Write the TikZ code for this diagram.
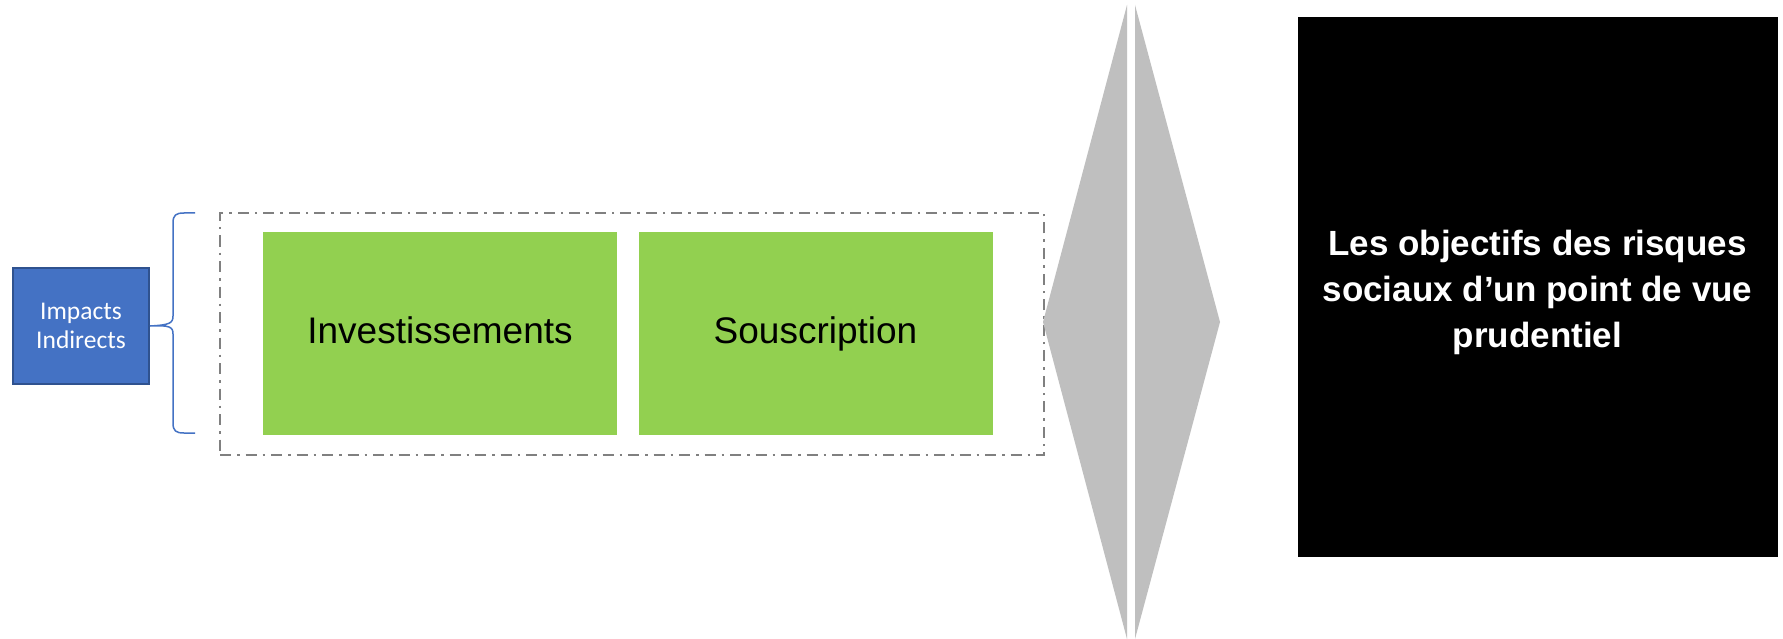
\documentclass[tikz,border=0pt]{standalone}
\usepackage{fontspec}
\setmainfont{Liberation Sans}
\newfontfamily\calibrifont{Carlito}
\definecolor{bluefill}{HTML}{4472C4}
\definecolor{blueedge}{HTML}{2F528F}
\definecolor{greenfill}{HTML}{92D050}
\definecolor{chevgray}{HTML}{BFBFBF}
\definecolor{dashgray}{HTML}{808080}
\begin{document}
\begin{tikzpicture}[x=1pt,y=-1pt,
  bluebox/.style={draw=blueedge,fill=bluefill,line width=2pt,minimum width=136pt,minimum height=116pt,inner sep=0pt,
    align=center,text=white,font=\calibrifont\fontsize{25.5}{29}\selectfont},
  greenbox/.style={fill=greenfill,minimum width=354pt,minimum height=203pt,inner sep=0pt,
    text height=27pt,text depth=8pt,font=\fontsize{37}{44}\selectfont},
  groupbox/.style={draw=dashgray,line width=2.4pt,dash pattern=on 11pt off 6pt on 2.5pt off 6pt,
    minimum width=824pt,minimum height=242pt,inner sep=0pt},
  blackbox/.style={fill=black,minimum width=480pt,minimum height=540pt,inner sep=0pt,
    align=center,text=white,font=\bfseries\fontsize{35}{46}\selectfont},
  bracestyle/.style={draw=bluefill,line width=1.5pt}]
\useasboundingbox (0,0) rectangle (1783,639);
\fill[white] (0,0) rectangle (1783,639);
% group
\node[groupbox] (grp) at (632,334) {};
\node[greenbox] (inv) at (440,333.5) {Investissements};
\node[greenbox] (sou) at (815.5,333.5) {Souscription};
% left box
\node[bluebox] (imp) at (81,326) {Impacts\\Indirects};
% brace
\coordinate (bt) at (195,213);
\coordinate (bb) at (195,433);
\draw[bracestyle] (bt) -- (184,213) .. controls (176,213) and (173,215) .. (173,223)
  -- (173,316) .. controls (173,323) and (170,325) .. (imp.east)
  .. controls (170,325) and (173,327) .. (173,334)
  -- (173,423) .. controls (173,431) and (176,433) .. (184,433) -- (bb);
% chevrons
\fill[chevgray] (1127,5) -- (1043,322) -- (1127,639) -- cycle;
\fill[chevgray] (1135,5) -- (1220,322) -- (1135,639) -- cycle;
% black box
\node[blackbox] (obj) at (1537.5,287) {};
\node[align=center,text=white,font=\bfseries\fontsize{35}{46}\selectfont] (objtext) at (1537.5,292)
  {Les objectifs des risques\\sociaux d’un point de vue\\prudentiel};
\end{tikzpicture}
\end{document}
